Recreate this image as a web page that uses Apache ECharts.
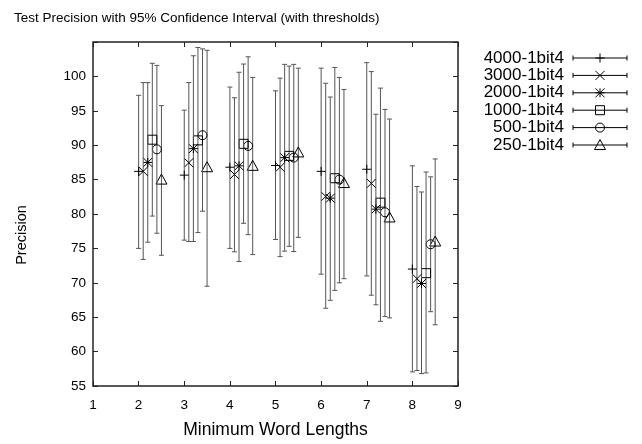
<!DOCTYPE html>
<html>
<head>
<meta charset="utf-8">
<script src="https://cdn.jsdelivr.net/npm/echarts@6/dist/echarts.min.js"></script>
<style>html,body{margin:0;padding:0;background:#fff}#c{width:642px;height:444px}</style>
</head>
<body>
<div id="c"></div>
<script>
const lengths = [2, 3, 4, 5, 6, 7, 8];
const seriesNames = ['4000-1bit4', '3000-1bit4', '2000-1bit4', '1000-1bit4', '500-1bit4', '250-1bit4'];
const seriesShapes = ['plus', 'cross', 'star', 'square', 'circle', 'triangle'];

const mean4000 = [86.2, 85.65, 86.8, 87.05, 86.2, 86.5, 72.0];
const low4000  = [75.0, 76.2, 75.0, 76.3, 71.25, 71.0, 57.05];
const high4000 = [97.25, 95.1, 98.45, 97.9, 101.2, 102.0, 87.0];

const mean3000 = [86.2, 87.45, 85.75, 86.8, 82.55, 84.45, 70.6];
const low3000  = [73.4, 76.0, 74.5, 73.8, 66.3, 68.2, 57.25];
const high3000 = [99.1, 99.1, 96.9, 99.75, 99.0, 100.7, 84.0];

const mean2000 = [87.5, 89.5, 87.0, 88.2, 82.3, 80.7, 69.9];
const low2000  = [75.9, 76.0, 73.1, 74.6, 67.45, 66.8, 56.8];
const high2000 = [99.1, 103.0, 100.6, 101.75, 97.0, 94.5, 83.2];

const mean1000 = [90.8, 90.7, 90.2, 88.45, 85.2, 81.65, 71.4];
const low1000  = [79.7, 77.3, 78.65, 75.3, 68.9, 64.4, 56.9];
const high1000 = [101.9, 104.2, 101.8, 101.5, 101.3, 98.3, 86.1];

const mean500 = [89.4, 91.45, 89.9, 88.2, 85.0, 80.25, 75.6];
const low500  = [77.2, 80.4, 77.0, 74.55, 70.0, 65.1, 65.8];
const high500 = [101.6, 104.0, 102.85, 101.75, 99.85, 95.2, 85.4];

const mean250 = [85.0, 86.8, 87.0, 88.95, 84.5, 79.5, 76.0];
const low250  = [74.0, 69.5, 74.1, 76.6, 70.6, 64.9, 63.9];
const high250 = [95.75, 103.8, 99.85, 101.2, 98.1, 93.8, 88.0];

const yTicks = [55, 60, 65, 70, 75, 80, 85, 90, 95, 100];
const xTicks = [1, 2, 3, 4, 5, 6, 7, 8, 9];

const means = [mean4000, mean3000, mean2000, mean1000, mean500, mean250];
const lows = [low4000, low3000, low2000, low1000, low500, low250];
const highs = [high4000, high3000, high2000, high1000, high500, high250];

const DODGE = 0.1;
const FONT = '"Liberation Sans", Arial, sans-serif';
const BAR = '#555';
const MK = 4.5;

function markerEls(shape, cx, cy) {
  const s = MK;
  const st = { stroke: '#000', fill: 'none', lineWidth: 1 };
  const line = (x1, y1, x2, y2) => ({ type: 'line', shape: { x1, y1, x2, y2 }, style: st });
  if (shape === 'plus') return [line(cx - s, cy, cx + s, cy), line(cx, cy - s, cx, cy + s)];
  if (shape === 'cross') return [line(cx - s, cy - s, cx + s, cy + s), line(cx - s, cy + s, cx + s, cy - s)];
  if (shape === 'star') return [line(cx - s, cy, cx + s, cy), line(cx, cy - s, cx, cy + s),
    line(cx - s, cy - s, cx + s, cy + s), line(cx - s, cy + s, cx + s, cy - s)];
  if (shape === 'square') return [{ type: 'rect', shape: { x: cx - s, y: cy - s, width: 2 * s, height: 2 * s }, style: st }];
  if (shape === 'circle') return [{ type: 'circle', shape: { cx, cy, r: s }, style: st }];
  return [{ type: 'polygon', shape: { points: [[cx, cy - s - 1], [cx + s + 1, cy + s], [cx - s - 1, cy + s]] }, style: st }];
}

function makeRender(si) {
  return function (params, api) {
    const x = api.value(0) + si * DODGE;
    const c = api.coord([x, api.value(1)]);
    const lo = api.coord([x, api.value(2)]);
    const hi = api.coord([x, api.value(3)]);
    const ls = { stroke: BAR, lineWidth: 1 };
    const cw = 2.5;
    const children = [
      { type: 'line', shape: { x1: c[0], y1: hi[1], x2: c[0], y2: lo[1] }, style: ls },
      { type: 'line', shape: { x1: c[0] - cw, y1: hi[1], x2: c[0] + cw, y2: hi[1] }, style: ls },
      { type: 'line', shape: { x1: c[0] - cw, y1: lo[1], x2: c[0] + cw, y2: lo[1] }, style: ls }
    ].concat(markerEls(seriesShapes[si], c[0], c[1]));
    return { type: 'group', children };
  };
}

const series = seriesNames.map((name, si) => ({
  type: 'custom',
  name,
  renderItem: makeRender(si),
  encode: { x: 0, y: [1, 2, 3] },
  data: lengths.map((L, i) => [L, means[si][i], lows[si][i], highs[si][i]]),
  clip: false,
  z: 10 - si
}));

// legend drawn as graphic elements
const legendEls = [];
seriesNames.forEach((name, si) => {
  const y = 58 + si * 17.4;
  legendEls.push({ type: 'text', style: { text: name, x: 564, y: y, align: 'right', verticalAlign: 'middle', font: '17px ' + FONT, fill: '#000' } });
  const ls = { stroke: '#000', lineWidth: 1 };
  legendEls.push({ type: 'line', shape: { x1: 573, y1: y, x2: 627, y2: y }, style: ls });
  legendEls.push({ type: 'line', shape: { x1: 573, y1: y - 2.5, x2: 573, y2: y + 2.5 }, style: ls });
  legendEls.push({ type: 'line', shape: { x1: 627, y1: y - 2.5, x2: 627, y2: y + 2.5 }, style: ls });
  markerEls(seriesShapes[si], 600, y).forEach(e => legendEls.push(e));
});

const axisCommon = {
  axisLine: { show: false },
  splitLine: { show: false },
  axisTick: { show: true, inside: true, length: 5, lineStyle: { color: '#222' } }
};

const option = {
  animation: false,
  backgroundColor: '#fff',
  title: {
    text: 'Test Precision with 95% Confidence Interval (with thresholds)',
    left: 9, top: 6,
    textStyle: { fontFamily: FONT, fontSize: 13.5, fontWeight: 'normal', color: '#000' }
  },
  grid: { left: 93, right: 184, top: 42, bottom: 56, show: true, borderColor: '#222', borderWidth: 1.5, backgroundColor: 'transparent' },
  xAxis: [
    Object.assign({}, axisCommon, {
      type: 'value', min: 1, max: 9, interval: 1, position: 'bottom',
      name: 'Minimum Word Lengths', nameLocation: 'middle', nameGap: 35,
      nameTextStyle: { fontFamily: FONT, fontSize: 17.5, color: '#000' },
      axisLabel: { fontFamily: FONT, fontSize: 13.5, color: '#000', margin: 12,
        formatter: v => (xTicks.indexOf(v) >= 0 ? String(v) : '') }
    }),
    Object.assign({}, axisCommon, { type: 'value', min: 1, max: 9, interval: 1, position: 'top', axisLabel: { show: false } })
  ],
  yAxis: [
    Object.assign({}, axisCommon, {
      type: 'value', min: 55, max: 105, interval: 5, position: 'left',
      name: 'Precision', nameLocation: 'middle', nameGap: 64, nameRotate: 90,
      nameTextStyle: { fontFamily: FONT, fontSize: 14.5, color: '#000', padding: [0, 42, 0, 0] },
      axisLabel: { fontFamily: FONT, fontSize: 13.5, color: '#000', margin: 7,
        formatter: v => (yTicks.indexOf(v) >= 0 ? String(v) : '') }
    }),
    Object.assign({}, axisCommon, { type: 'value', min: 55, max: 105, interval: 5, position: 'right', axisLabel: { show: false } })
  ],
  graphic: legendEls,
  series
};

const chart = echarts.init(document.getElementById('c'), null, { renderer: 'canvas' });
chart.setOption(option);
</script>
</body>
</html>
